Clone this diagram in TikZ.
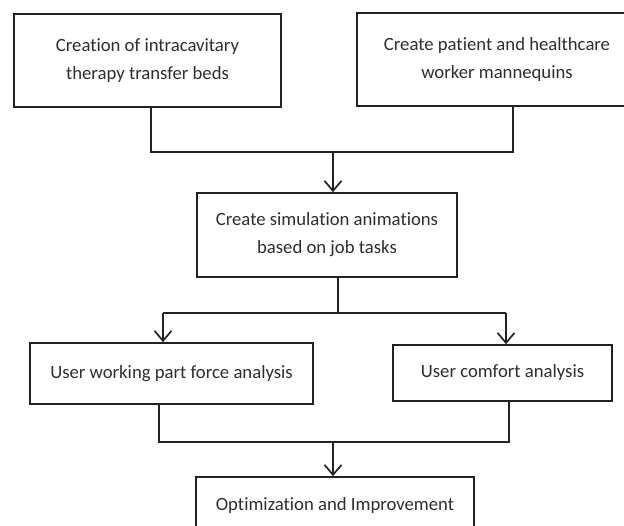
\documentclass[tikz,border=0pt]{standalone}
\usepackage{fontspec}
\setmainfont{Carlito}[Ligatures=NoCommon]
\usetikzlibrary{arrows.meta}
\definecolor{inkline}{HTML}{222222}
\definecolor{inktext}{HTML}{2E2E2E}
\tikzset{
  stepbox/.style={draw=inkline, line width=1.7pt, fill=white, inner sep=0pt,
    align=center, text=inktext, font=\fontsize{18.7}{28}\selectfont},
  link/.style={draw=inkline, line width=1.7pt},
  flow/.style={link, -{Straight Barb[length=10pt,width=17pt,line width=1.7pt]}},
}
\begin{document}
\begin{tikzpicture}[x=1pt,y=-1pt]
\useasboundingbox (0,0) rectangle (624,526);
\clip (0,0) rectangle (624,526);
\fill[white] (0,0) rectangle (624,526);

% boxes
\node[stepbox, minimum width=267pt, minimum height=93pt] (b1) at (147.5,60.5)
  {Creation of intracavitary\\therapy transfer beds};
\node[stepbox, minimum width=280pt, minimum height=93pt] (b2) at (497,59.5)
  {Create patient and healthcare\\worker mannequins};
\node[stepbox, minimum width=260pt, minimum height=84pt] (b3) at (327,235)
  {Create simulation animations\\based on job tasks};
\node[stepbox, minimum width=283pt, minimum height=61pt] (b4) at (171.5,373.5)
  {User working part force analysis};
\node[stepbox, minimum width=219pt, minimum height=56pt] (b5) at (502.5,373)
  {User comfort analysis};
\node[stepbox, minimum width=278pt, minimum height=58pt] (b6) at (335,506)
  {Optimization and Improvement};

% junction points
\coordinate (k1) at (151,152);
\coordinate (k2) at (513,152);
\coordinate (m1) at (333,152);
\coordinate (s1) at (338,313);
\coordinate (d1) at (163,313);
\coordinate (d2) at (506,313);
\coordinate (k3) at (159,442);
\coordinate (k4) at (509,442);
\coordinate (m2) at (333,442);

% first merge
\draw[link] (b1.south -| k1) -- (k1) -- (k2) -- (b2.south -| k2);
\draw[flow] (m1) -- (b3.north -| m1);

% split
\draw[link] (b3.south -| s1) -- (s1);
\draw[link] (d1) -- (d2);
\draw[flow] (d1) -- (b4.north -| d1);
\draw[flow] (d2) -- (b5.north -| d2);

% second merge
\draw[link] (b4.south -| k3) -- (k3) -- (k4) -- (b5.south -| k4);
\draw[flow] (m2) -- (b6.north -| m2);
\end{tikzpicture}
\end{document}
